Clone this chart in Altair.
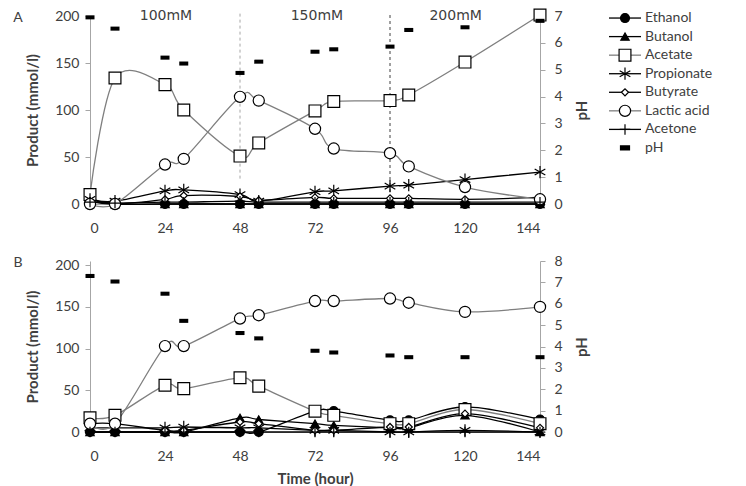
import altair as alt
import pandas as pd

# ---------------- data ----------------
time_h = [0, 8, 24, 30, 48, 54, 72, 78, 96, 102, 120, 144]
series_names = ["Ethanol", "Butanol", "Acetate", "Propionate", "Butyrate", "Lactic acid", "Acetone"]
legend_names = series_names + ["pH"]

# Panel A (mmol/l)
ethanol_A = [5, 0, 0, 0, 0, 0, 0, 0, 0, 0, 0, 0]
butanol_A = [6, 0, 0, 0, 0, 0, 0, 0, 0, 0, 0, 0]
acetate_A = [10, 134, 127, 100, 51, 65, 99, 109, 110, 116, 151, 201]
propionate_A = [5, 3, 14, 15, 10, 3, 13, 14, 19, 20, 26, 34]
butyrate_A = [3, 0, 5, 9, 8, 4, 7, 6, 6, 6, 5, 7]
lactic_A = [0, 0, 42, 48, 114, 110, 80, 59, 54, 40, 18, 5]
acetone_A = [2, 1, 2, 2, 3, 2, 2, 2, 2, 2, 2, 2]
ph_A = [6.95, 6.53, 5.45, 5.23, 4.88, 5.30, 5.67, 5.76, 5.86, 6.48, 6.58, 6.82]

# Panel B (mmol/l)
ethanol_B = [0, 0, 0, 0, 0, 0, 25, 25, 14, 14, 30, 15]
butanol_B = [0, 0, 0, 0, 17, 15, 10, 8, 5, 5, 20, 0]
acetate_B = [17, 20, 56, 52, 65, 55, 25, 20, 10, 10, 27, 10]
propionate_B = [5, 5, 5, 6, 5, 5, 2, 2, 0, 0, 2, 0]
butyrate_B = [10, 10, 2, 2, 12, 10, 2, 2, 6, 6, 22, 5]
lactic_B = [10, 10, 103, 103, 136, 140, 157, 157, 160, 155, 144, 150]
acetone_B = [0, 0, 0, 0, 0, 0, 0, 0, 0, 0, 0, 0]
ph_B = [7.3, 7.04, 6.47, 5.2, 4.63, 4.38, 3.8, 3.72, 3.58, 3.5, 3.5, 3.5]

concentration_labels = ["100mM", "150mM", "200mM"]
concentration_time = [24.3, 72.6, 117]
concentration_y = [200, 200, 200]
boundary_time = [48, 96]
boundary_bottom = [27, 0]
boundary_kind = ["first", "second"]

panel_A = dict(zip(series_names, [ethanol_A, butanol_A, acetate_A, propionate_A, butyrate_A, lactic_A, acetone_A]))
panel_B = dict(zip(series_names, [ethanol_B, butanol_B, acetate_B, propionate_B, butyrate_B, lactic_B, acetone_B]))


def long_df(panel):
    rows = []
    for name in series_names:
        for t, v in zip(time_h, panel[name]):
            rows.append({"series": name, "time": t, "value": v})
    return pd.DataFrame(rows)


dfA, dfB = long_df(panel_A), long_df(panel_B)
phA = pd.DataFrame({"series": "pH", "time": time_h, "ph": ph_A})
phB = pd.DataFrame({"series": "pH", "time": time_h, "ph": ph_B})

# ---------------- styles ----------------
ASTERISK = "M0,-1L0,1M-0.87,-0.5L0.87,0.5M-0.87,0.5L0.87,-0.5"
PLUS = "M-1,0L1,0M0,-1L0,1"
DASH = "M-1,-0.45L1,-0.45L1,0.45L-1,0.45Z"
shape_scale = alt.Scale(domain=legend_names,
                        range=["circle", "triangle-up", "square", ASTERISK, "diamond", "circle", PLUS, DASH])
fill_scale = alt.Scale(domain=legend_names,
                       range=["black", "black", "white", "white", "white", "white", "white", "black"])
size_scale = alt.Scale(type="ordinal", domain=legend_names,
                       range=[80, 70, 140, 150, 50, 125, 110, 81])
color_scale = alt.Scale(domain=legend_names,
                        range=["black", "black", "#7f7f7f", "black", "black", "#7f7f7f", "black", "black"])

FONT = "Lato"
TXT = "#404040"
W = 450


def x_enc(title):
    return alt.X("time:Q", scale=alt.Scale(domain=[0, 144], nice=False),
                 axis=alt.Axis(values=[0, 24, 48, 72, 96, 120, 144], title=title, ticks=False,
                               labelPadding=17, titlePadding=8))


def panel(df, phdf, ymax, phmax, height, letter, xtitle, extras=None):
    yscale = alt.Scale(domain=[0, ymax], nice=False)
    yaxis = alt.Axis(values=[0, 50, 100, 150, 200], title="Product (mmol/l)",
                     tickSize=5, labelPadding=6, titlePadding=14)
    base = alt.Chart(df)
    lines = base.mark_line(interpolate="cardinal", strokeWidth=1.3).encode(
        x=x_enc(xtitle),
        y=alt.Y("value:Q", scale=yscale, axis=yaxis),
        color=alt.Color("series:N", scale=color_scale, legend=None),
        detail="series:N",
    )
    pts = base.mark_point(filled=True, opacity=1, stroke="black", strokeWidth=1.2).encode(
        x="time:Q",
        y=alt.Y("value:Q", scale=yscale, axis=yaxis),
        shape=alt.Shape("series:N", scale=shape_scale, legend=None),
        fill=alt.Fill("series:N", scale=fill_scale, legend=None),
        size=alt.Size("series:N", scale=size_scale, legend=None),
    )
    letter_txt = alt.Chart(pd.DataFrame({"t": [letter]})).mark_text(
        font=FONT, fontSize=14, color=TXT).encode(text="t:N", x=alt.value(-72), y=alt.value(2))
    prod_layers = [lines, pts, letter_txt]
    if extras is not None:
        prod_layers = extras(yscale, yaxis) + prod_layers
    prod = alt.layer(*prod_layers)
    ph = alt.Chart(phdf).mark_point(filled=True, opacity=1, strokeWidth=0).encode(
        x="time:Q",
        y=alt.Y("ph:Q", scale=alt.Scale(domain=[0, phmax], nice=False),
                axis=alt.Axis(orient="right", values=list(range(0, phmax + 1)), title="pH",
                              titleAngle=270, titleBaseline="top", tickSize=5, labelPadding=9,
                              titlePadding=12)),
        shape=alt.Shape("series:N", scale=shape_scale, legend=None),
        fill=alt.Fill("series:N", scale=fill_scale, legend=None),
        size=alt.Size("series:N", scale=size_scale, legend=None),
    )
    return alt.layer(prod, ph).resolve_scale(y="independent").properties(width=W, height=height)


def extras_A(yscale, yaxis):
    bdf = pd.DataFrame({"time": boundary_time, "bottom": boundary_bottom, "kind": boundary_kind})
    rules = alt.Chart(bdf).mark_rule(strokeDash=[3, 3], strokeWidth=1).encode(
        x="time:Q",
        y=alt.Y("bottom:Q", scale=yscale, axis=yaxis),
        y2=alt.value(-3),
        stroke=alt.Stroke("kind:N", scale=alt.Scale(domain=boundary_kind, range=["#a6a6a6", "#404040"]),
                          legend=None),
    )
    cdf = pd.DataFrame({"label": concentration_labels, "time": concentration_time, "y": concentration_y})
    labels = alt.Chart(cdf).mark_text(font="DejaVu Sans", fontSize=14, color=TXT).encode(
        x="time:Q", y=alt.Y("y:Q", scale=yscale, axis=yaxis), text="label:N")
    return [rules, labels]


chartA = panel(dfA, phA, 200, 7, 188, "A", None, extras_A)
chartB = panel(dfB, phB, 205, 8, 171, "B", "Time (hour)")

# ---------------- legend ----------------
leg_df = pd.DataFrame({"series": legend_names})
leg_y = alt.Y("series:N", sort=legend_names, axis=None, scale=alt.Scale(type="point", padding=0.11))
leg_base = alt.Chart(leg_df)
leg_rules = leg_base.transform_filter(alt.datum.series != "pH").mark_rule(strokeWidth=1.3).encode(
    y=leg_y, x=alt.value(0), x2=alt.value(32),
    color=alt.Color("series:N", scale=color_scale, legend=None))
leg_pts = leg_base.mark_point(filled=True, opacity=1, stroke="black", strokeWidth=1.2).encode(
    y=leg_y, x=alt.value(16),
    shape=alt.Shape("series:N", scale=shape_scale, legend=None),
    fill=alt.Fill("series:N", scale=fill_scale, legend=None),
    size=alt.Size("series:N", scale=size_scale, legend=None))
leg_txt = leg_base.mark_text(align="left", font=FONT, fontSize=14, color=TXT).encode(
    y=leg_y, x=alt.value(36), text="series:N")
legend = alt.layer(leg_rules, leg_pts, leg_txt).properties(width=112, height=134)

chart = alt.hconcat(
    alt.vconcat(chartA, chartB, spacing=19),
    legend,
    spacing=18,
).properties(
    padding={"left": 5, "top": -2, "right": 5, "bottom": 0}
).configure_view(stroke=None).configure_axis(
    grid=False, domainColor="#a6a6a6", tickColor="#a6a6a6", labelColor=TXT, titleColor=TXT,
    labelFont=FONT, titleFont=FONT, labelFontSize=14, titleFontSize=15, titleFontWeight="bold",
)

chart.save("out.html", embed_options={"renderer": "svg", "actions": False})
